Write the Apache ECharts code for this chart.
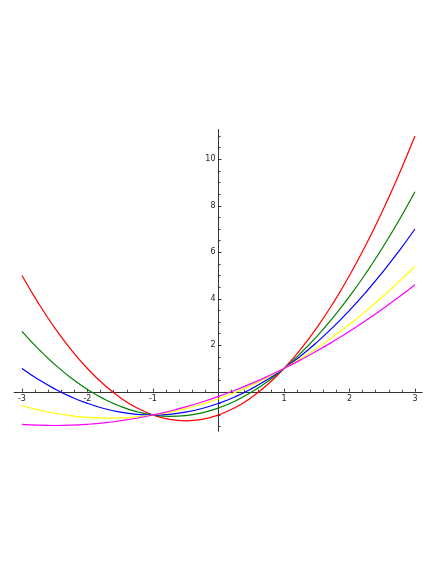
<!DOCTYPE html>
<html>
<head>
<meta charset="utf-8">
<script src="https://cdn.jsdelivr.net/npm/echarts@6/dist/echarts.min.js"></script>
<style>html,body{margin:0;padding:0;background:#fff;}#c{width:436px;height:564px;}</style>
</head>
<body>
<div id="c"></div>
<script>
const xs = [-3, -2.75, -2.5, -2.25, -2, -1.75, -1.5, -1.25, -1, -0.75, -0.5, -0.25, 0, 0.25, 0.5, 0.75, 1, 1.25, 1.5, 1.75, 2, 2.25, 2.5, 2.75, 3];
const redY = [5, 3.8125, 2.75, 1.8125, 1, 0.3125, -0.25, -0.6875, -1, -1.1875, -1.25, -1.1875, -1, -0.6875, -0.25, 0.3125, 1, 1.8125, 2.75, 3.8125, 5, 6.3125, 7.75, 9.3125, 11];
const greenY = [2.6, 1.844, 1.175, 0.594, 0.1, -0.306, -0.625, -0.856, -1, -1.056, -1.025, -0.906, -0.7, -0.406, -0.025, 0.444, 1, 1.644, 2.375, 3.194, 4.1, 5.094, 6.175, 7.344, 8.6];
const blueY = [1, 0.531, 0.125, -0.219, -0.5, -0.719, -0.875, -0.969, -1, -0.969, -0.875, -0.719, -0.5, -0.219, 0.125, 0.531, 1, 1.531, 2.125, 2.781, 3.5, 4.281, 5.125, 6.031, 7];
const yellowY = [-0.6, -0.781, -0.925, -1.031, -1.1, -1.131, -1.125, -1.081, -1, -0.881, -0.725, -0.531, -0.3, -0.031, 0.275, 0.619, 1, 1.419, 1.875, 2.369, 2.9, 3.469, 4.075, 4.719, 5.4];
const magentaY = [-1.4, -1.438, -1.45, -1.438, -1.4, -1.338, -1.25, -1.138, -1, -0.838, -0.65, -0.438, -0.2, 0.063, 0.35, 0.663, 1, 1.363, 1.75, 2.163, 2.6, 3.063, 3.55, 4.063, 4.6];
const xTickLabels = [-3, -2, -1, 1, 2, 3];
const yTickLabels = [2, 4, 6, 8, 10];

const W = 436, H = 564;
const XMIN = -3.12, XMAX = 3.11, YMIN = -1.70, YMAX = 11.28;
const GL = 14.1, GR = 13.8, GT = 129.5, GB = 132.7;
const gw = W - GL - GR, gh = H - GT - GB;
// offsets that put the axes through the origin
const xOff = -((H - GB) - (GT + YMAX / (YMAX - YMIN) * gh));
const yOff = -((-XMIN) / (XMAX - XMIN) * gw);

const xMinor = [], yMinor = [];
for (let i = -15; i <= 15; i++) { if (i % 5 !== 0) xMinor.push(+(i * 0.2).toFixed(2)); }
for (let i = -3; i <= 22; i++) { if (i % 4 !== 0) yMinor.push(i * 0.5); }

const axisCol = '#333';
const lbl = { color: '#222', fontSize: 8, fontFamily: 'DejaVu Sans' };

function pairs(ys) { return xs.map((x, i) => [x, ys[i]]); }
function ser(name, ys, color, z) {
  return { name, type: 'line', data: pairs(ys), showSymbol: false, symbol: 'none', smooth: true,
    lineStyle: { color, width: 1.2 }, itemStyle: { color }, z, animation: false, xAxisIndex: 0, yAxisIndex: 0 };
}

const chart = echarts.init(document.getElementById('c'), null, { renderer: 'canvas' });
chart.setOption({
  animation: false,
  backgroundColor: '#fff',
  grid: { left: GL, right: GR, top: GT, bottom: GB, containLabel: false, outerBoundsMode: 'none' },
  xAxis: [
    { type: 'value', min: XMIN, max: XMAX, position: 'bottom', offset: xOff,
      axisLine: { show: true, onZero: false, lineStyle: { color: axisCol, width: 1 } },
      axisTick: { show: true, inside: true, length: 3, customValues: [-3, -2, -1, 1, 2, 3], lineStyle: { color: axisCol } },
      axisLabel: Object.assign({ show: true, margin: 3, customValues: xTickLabels }, lbl),
      splitLine: { show: false } },
    { type: 'value', min: XMIN, max: XMAX, position: 'bottom', offset: xOff,
      axisLine: { show: false, onZero: false },
      axisTick: { show: true, inside: true, length: 2, customValues: xMinor, lineStyle: { color: axisCol } },
      axisLabel: { show: false }, splitLine: { show: false } }
  ],
  yAxis: [
    { type: 'value', min: YMIN, max: YMAX, position: 'left', offset: yOff,
      axisLine: { show: true, onZero: false, lineStyle: { color: axisCol, width: 1 } },
      axisTick: { show: true, inside: true, length: 3, customValues: [2, 4, 6, 8, 10], lineStyle: { color: axisCol } },
      axisLabel: Object.assign({ show: true, margin: 3, customValues: yTickLabels }, lbl),
      splitLine: { show: false } },
    { type: 'value', min: YMIN, max: YMAX, position: 'left', offset: yOff,
      axisLine: { show: false, onZero: false },
      axisTick: { show: true, inside: true, length: 2, customValues: yMinor, lineStyle: { color: axisCol } },
      axisLabel: { show: false }, splitLine: { show: false } }
  ],
  series: [
    ser('red', redY, '#ff0000', 2),
    ser('green', greenY, '#008000', 3),
    ser('blue', blueY, '#0000ff', 4),
    ser('yellow', yellowY, '#ffff00', 5),
    ser('magenta', magentaY, '#ff00ff', 6)
  ]
});
</script>
</body>
</html>
